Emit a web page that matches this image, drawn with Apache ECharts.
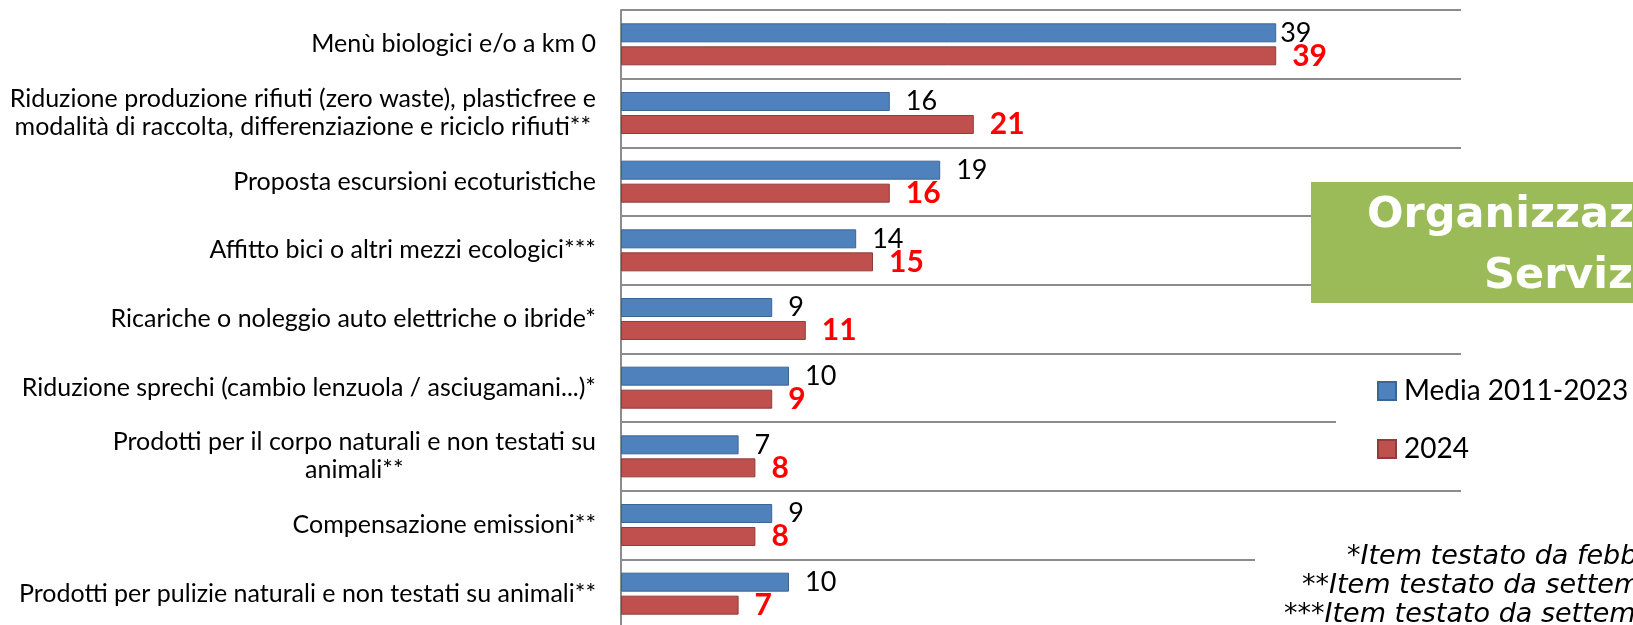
<!DOCTYPE html>
<html>
<head>
<meta charset="utf-8">
<script src="https://cdn.jsdelivr.net/npm/echarts@6/dist/echarts.min.js"></script>
<style>
html, body { margin: 0; padding: 0; background: #ffffff; }
#chart { width: 1633px; height: 625px; }
</style>
</head>
<body>
<div id="chart"></div>
<script>
(function(){

var categories = [
    'Menù biologici e/o a km 0',
    'Riduzione produzione rifiuti (zero waste), plasticfree e\nmodalità di raccolta, differenziazione e riciclo rifiuti**',
    'Proposta escursioni ecoturistiche',
    'Affitto bici o altri mezzi ecologici***',
    'Ricariche o noleggio auto elettriche o ibride*',
    'Riduzione sprechi (cambio lenzuola / asciugamani...)*',
    'Prodotti per il corpo naturali e non testati su\nanimali**',
    'Compensazione emissioni**',
    'Prodotti per pulizie naturali e non testati su animali**'
];
var seriesNames = ['Media 2011-2023', '2024'];
var media = [39, 16, 19, 14, 9, 10, 7, 9, 10];
var anno2024 = [39, 21, 16, 15, 11, 9, 8, 8, 7];
var boxTitle = ['Organizzazione e', 'Servizi'];
var notes = [
    '*Item testato da febbraio 2023',
    '**Item testato da settembre 2022',
    '***Item testato da settembre 2023'
];

var gray = '#8c8c8c';

var option = {
    animation : false,
    backgroundColor : '#ffffff',
    textStyle : { fontFamily : 'Lato' },
    grid : {
        left : 621,
        right : 172,
        top : 10,
        bottom : -3,
        containLabel : false,
        outerBoundsMode : 'none'
    },
    legend : {
        orient : 'vertical',
        left : 1377,
        top : 377,
        padding : 0,
        itemWidth : 18,
        itemHeight : 18,
        itemGap : 30,
        icon : 'rect',
        selectedMode : false,
        data : seriesNames,
        textStyle : {
            fontFamily : 'Lato',
            fontSize : 28,
            color : '#000000',
            padding : [0, 0, 0, 3]
        }
    },
    xAxis : {
        type : 'value',
        min : 0,
        max : 50,
        show : false
    },
    yAxis : {
        type : 'category',
        inverse : true,
        data : categories,
        axisTick : { show : false },
        axisLine : {
            show : true,
            lineStyle : { color : gray, width : 2 }
        },
        splitLine : {
            show : true,
            interval : 0,
            lineStyle : { color : gray, width : 2 }
        },
        axisLabel : {
            interval : 0,
            margin : 25,
            color : '#000000',
            fontFamily : 'Lato',
            fontSize : 25,
            lineHeight : 28,
            formatter : function(v){
                return v.split('\n').map(function(s){ return '{c|' + s + '}'; }).join('\n');
            },
            rich : {
                c : { align : 'center', fontFamily : 'Lato', fontSize : 25, lineHeight : 28, color : '#000000' }
            }
        }
    },
    series : [
        {
            name : seriesNames[0],
            type : 'bar',
            barWidth : 19,
            barGap : '21%',
            itemStyle : { color : '#4f81bd', borderColor : '#3b6593', borderWidth : 1 },
            label : {
                show : true,
                position : 'right',
                distance : 16,
                color : '#000000',
                fontFamily : 'Lato',
                fontSize : 27
            },
            // the first label sits right against its bar
            data : media.map(function(v, i){
                return i === 0 ? { value : v, label : { distance : 4 } } : v;
            })
        },
        {
            name : seriesNames[1],
            type : 'bar',
            barWidth : 19,
            barGap : '21%',
            itemStyle : { color : '#c0504d', borderColor : '#8f3c3a', borderWidth : 1 },
            label : {
                show : true,
                position : 'right',
                distance : 16,
                color : '#ff0000',
                fontFamily : 'Lato',
                fontWeight : 'bold',
                fontSize : 30
            },
            data : anno2024
        }
    ],
    graphic : [
        // green title box
        { type : 'rect', z : 3, shape : { x : 1311, y : 182, width : 400, height : 121 }, style : { fill : '#9bbb59' } },
        { type : 'text', z : 5, x : 1367, y : 216, style : { text : boxTitle[0], fill : '#ffffff', font : 'bold 43px "DejaVu Sans"', verticalAlign : 'middle' } },
        { type : 'text', z : 5, x : 1484, y : 277, style : { text : boxTitle[1], fill : '#ffffff', font : 'bold 43px "DejaVu Sans"', verticalAlign : 'middle' } },
        // white boxes behind legend and notes
        { type : 'rect', z : 3, shape : { x : 1336, y : 362, width : 400, height : 118 }, style : { fill : '#ffffff' } },
        { type : 'rect', z : 3, shape : { x : 1255, y : 520, width : 400, height : 110 }, style : { fill : '#ffffff' } },
        { type : 'text', z : 5, x : 1347, y : 557, style : { text : notes[0], fill : '#000000', font : 'italic 27px "DejaVu Sans"', verticalAlign : 'middle' } },
        { type : 'text', z : 5, x : 1302, y : 586, style : { text : notes[1], fill : '#000000', font : 'italic 27px "DejaVu Sans"', verticalAlign : 'middle' } },
        { type : 'text', z : 5, x : 1284, y : 615, style : { text : notes[2], fill : '#000000', font : 'italic 27px "DejaVu Sans"', verticalAlign : 'middle' } }
    ]
};

var myChart = echarts.init(document.getElementById('chart'));
myChart.setOption(option);

})()
</script>
</body>
</html>
